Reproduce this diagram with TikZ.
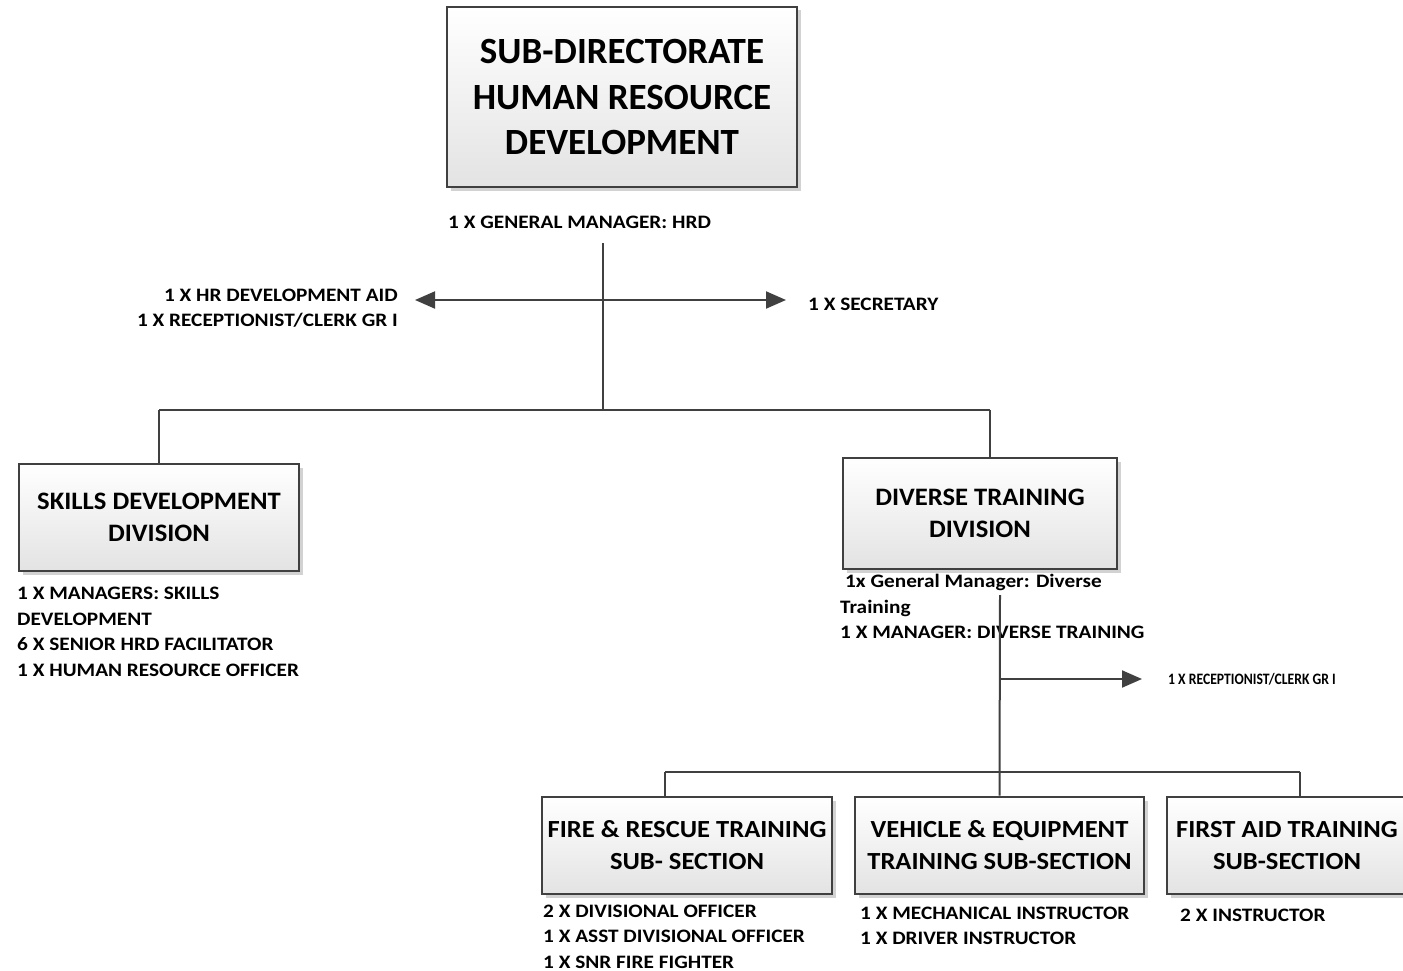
\documentclass[tikz,border=0pt]{standalone}
\usepackage{fontspec}
\setmainfont{Carlito}
\newfontfamily\condfont{Carlito}[FakeStretch=0.86]
\newfontfamily\lblfont{Carlito}[FakeStretch=1.12]
\newfontfamily\midfont{Carlito}[FakeStretch=1.06]
\newfontfamily\subfont{Carlito}[FakeStretch=1.08]
\usetikzlibrary{arrows.meta,shadows}
\definecolor{linegray}{HTML}{404040}
\begin{document}
\begin{tikzpicture}[x=1pt,y=-1pt,
  box/.style={draw=linegray, line width=2.6pt, top color=white, bottom color=black!11,
    align=center, inner sep=0pt, font=\bfseries,
    drop shadow={shadow xshift=3.5pt, shadow yshift=-3.5pt, fill=black!25, opacity=0.7}},
  midbox/.style={box, font=\fontsize{25.1}{31.5}\selectfont\midfont\bfseries},
  subbox/.style={box, minimum height=97pt, font=\fontsize{24.6}{32}\selectfont\subfont\bfseries},
  conn/.style={draw=linegray, line width=2pt},
  arr/.style={conn, -{Triangle[length=20pt,width=17pt]}},
  lbl/.style={inner sep=0pt, font=\fontsize{19}{25.5}\selectfont\lblfont\bfseries, align=left}]
\useasboundingbox (0,0) rectangle (1403,971);
\clip (0,0) rectangle (1403,971);
\fill[white] (0,0) rectangle (1403,971);

% boxes
\node[box, minimum width=350pt, minimum height=180pt, font=\fontsize{37}{45.5}\selectfont\bfseries] (top) at (622,97)
  {SUB-DIRECTORATE\\HUMAN RESOURCE\\DEVELOPMENT};
\node[midbox, minimum width=280pt, minimum height=107pt] (skills) at (159,517.5)
  {SKILLS DEVELOPMENT\\DIVISION};
\node[midbox, minimum width=274pt, minimum height=111pt] (diverse) at (980,513.5)
  {DIVERSE TRAINING\\DIVISION};
\node[subbox, minimum width=290pt] (fire) at (687,845.5)
  {FIRE \& RESCUE TRAINING\\SUB- SECTION};
\node[subbox, minimum width=289pt] (vehicle) at (999.5,845.5)
  {VEHICLE \& EQUIPMENT\\TRAINING SUB-SECTION};
\node[subbox, minimum width=300pt] (firstaid) at (1317,845.5)
  {\hspace*{-60pt}FIRST AID TRAINING\\\hspace*{-60pt}SUB-SECTION};

% labels
\node[lbl, anchor=west] (gm) at (448,222) {1 X GENERAL MANAGER: HRD};
\node[lbl, anchor=east, align=right] (left) at (398,308) {1 X HR DEVELOPMENT AID\\1 X RECEPTIONIST/CLERK GR I};
\node[lbl, anchor=west] (sec) at (808,304) {1 X SECRETARY};
\node[lbl, anchor=north west] (skl) at (17,587) {1 X MANAGERS: SKILLS\\DEVELOPMENT\\6 X SENIOR HRD FACILITATOR\\1 X HUMAN RESOURCE OFFICER};
\node[lbl, anchor=north west] (dvl) at (840,574) {\hspace{5pt}1x General Manager: Diverse\\Training\\1 X MANAGER: DIVERSE TRAINING};
\node[inner sep=0pt, font=\fontsize{15.9}{18}\selectfont\condfont\bfseries, anchor=west] (rec2) at (1168,679) {1 X RECEPTIONIST/CLERK GR I};
\node[lbl, anchor=north west] (firel) at (543,904.5) {2 X DIVISIONAL OFFICER\\1 X ASST DIVISIONAL OFFICER\\1 X SNR FIRE FIGHTER};
\node[lbl, anchor=north west] (vehl) at (860,906.5) {1 X MECHANICAL INSTRUCTOR\\1 X DRIVER INSTRUCTOR};
\node[lbl, anchor=north west] (fal) at (1180,909) {2 X INSTRUCTOR};

% connector coordinates
\coordinate (s1) at (603,243);
\coordinate (j1) at (603,410);
\coordinate (a1) at (603,300);
\coordinate (lt) at (415,300);
\coordinate (rt) at (786,300);
\coordinate (bl) at (159,410);
\coordinate (br) at (990,410);
\coordinate (s2) at (1000,595);
\coordinate (a2) at (1000,679);
\coordinate (rt2) at (1142,679);
\coordinate (b2l) at (665,772);
\coordinate (b2r) at (1300,772);

% connectors
\draw[conn] (s1) -- (j1);
\draw[arr] (a1) -- (lt);
\draw[arr] (a1) -- (rt);
\draw[conn] (bl) -- (br);
\draw[conn] (bl) -- (skills.north);
\draw[conn] (br) -- (br |- diverse.north);
\draw[conn] (s2) -- (vehicle.north);
\draw[arr] (a2) -- (rt2);
\draw[conn] (b2l) -- (b2r);
\draw[conn] (b2l) -- (b2l |- fire.north);
\draw[conn] (b2r) -- (b2r |- firstaid.north);
\end{tikzpicture}
\end{document}
